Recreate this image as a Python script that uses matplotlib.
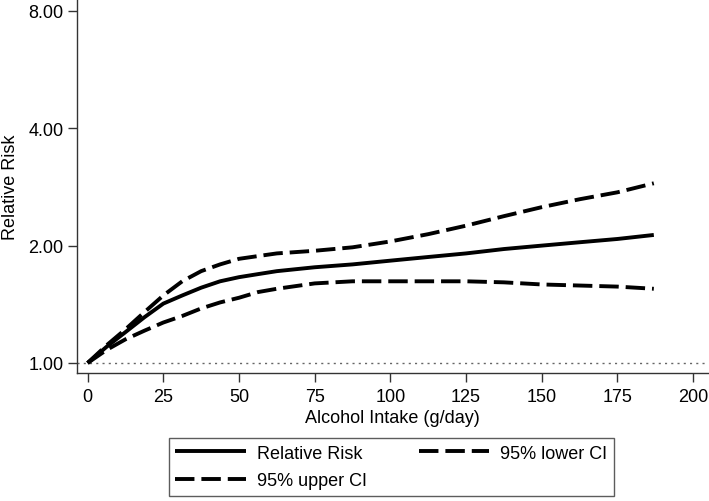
import matplotlib
matplotlib.use("Agg")
import matplotlib.pyplot as plt
from matplotlib.ticker import FixedLocator, FixedFormatter, NullLocator

plt.rcParams['font.family'] = ['Liberation Sans', 'DejaVu Sans']

# Data
intake = [0, 6.25, 12.5, 18.75, 25, 31.25, 37.5, 43.75, 50, 56.25, 62.5, 75, 87.5,
          100, 112.5, 125, 137.5, 150, 162.5, 175, 187]
rr = [1.00, 1.10, 1.20, 1.31, 1.42, 1.49, 1.56, 1.62, 1.66, 1.69, 1.72, 1.76, 1.79,
      1.83, 1.87, 1.91, 1.96, 2.00, 2.04, 2.08, 2.13]
upper_ci = [1.00, 1.11, 1.22, 1.35, 1.49, 1.62, 1.72, 1.79, 1.85, 1.88, 1.91, 1.94, 1.98,
            2.05, 2.14, 2.25, 2.38, 2.51, 2.63, 2.74, 2.89]
lower_ci = [1.00, 1.08, 1.15, 1.21, 1.27, 1.32, 1.38, 1.43, 1.47, 1.52, 1.55, 1.60, 1.62,
            1.62, 1.62, 1.62, 1.61, 1.59, 1.58, 1.57, 1.55]

x_ticks = [0, 25, 50, 75, 100, 125, 150, 175, 200]
y_ticks = [1, 2, 4, 8]
y_tick_labels = ["1.00", "2.00", "4.00", "8.00"]

fig = plt.figure(figsize=(7.09, 5.02), dpi=100)
ax = fig.add_axes([0.1082, 0.2544, 0.8904, 0.7456])

spine_col = '#333333'
lw = 2.8
dash = (14, 5)

ax.axhline(1.0, color='#666666', lw=1.0, linestyle=(0, (1.5, 3)), zorder=1)

l_rr, = ax.plot(intake, rr, color='black', lw=lw, solid_capstyle='butt',
                solid_joinstyle='round', label='Relative Risk', zorder=3)
l_up, = ax.plot(intake, upper_ci, color='black', lw=lw, label='95% upper CI', zorder=3)
l_lo, = ax.plot(intake, lower_ci, color='black', lw=lw, label='95% lower CI', zorder=3)
for ln in (l_up, l_lo):
    ln.set_linestyle((0, (dash[0] / lw, dash[1] / lw)))
    ln.set_dash_capstyle('butt')

ax.set_yscale('log', base=2)
ax.set_ylim(0.941, 8.58)
ax.set_xlim(-3.6, 204.9)
ax.yaxis.set_major_locator(FixedLocator(y_ticks))
ax.yaxis.set_major_formatter(FixedFormatter(y_tick_labels))
ax.yaxis.set_minor_locator(NullLocator())
ax.set_xticks(x_ticks)
ax.set_xticklabels([str(t) for t in x_ticks])

for s in ('top', 'right'):
    ax.spines[s].set_visible(False)
for s in ('left', 'bottom'):
    ax.spines[s].set_color(spine_col)
    ax.spines[s].set_linewidth(1.0)

ax.tick_params(axis='both', which='major', labelsize=13, colors=spine_col,
               labelcolor='black', length=6.5, width=1.0)
ax.tick_params(axis='y', pad=3)
ax.tick_params(axis='x', pad=4)

ax.set_xlabel('Alcohol Intake (g/day)', fontsize=13, labelpad=3)
ax.set_ylabel('Relative Risk', fontsize=13, labelpad=7)

leg = fig.legend(handles=[l_rr, l_up, l_lo], loc='lower left',
                 bbox_to_anchor=(0.2384, 0.0105),
                 ncol=2, fontsize=13, frameon=True, fancybox=False,
                 handlelength=3.9, handletextpad=0.6, columnspacing=2.9,
                 labelspacing=0.6, borderpad=0.35, borderaxespad=0)
leg.get_frame().set_edgecolor(spine_col)
leg.get_frame().set_linewidth(1.0)

fig.savefig('out.png', dpi=100)
